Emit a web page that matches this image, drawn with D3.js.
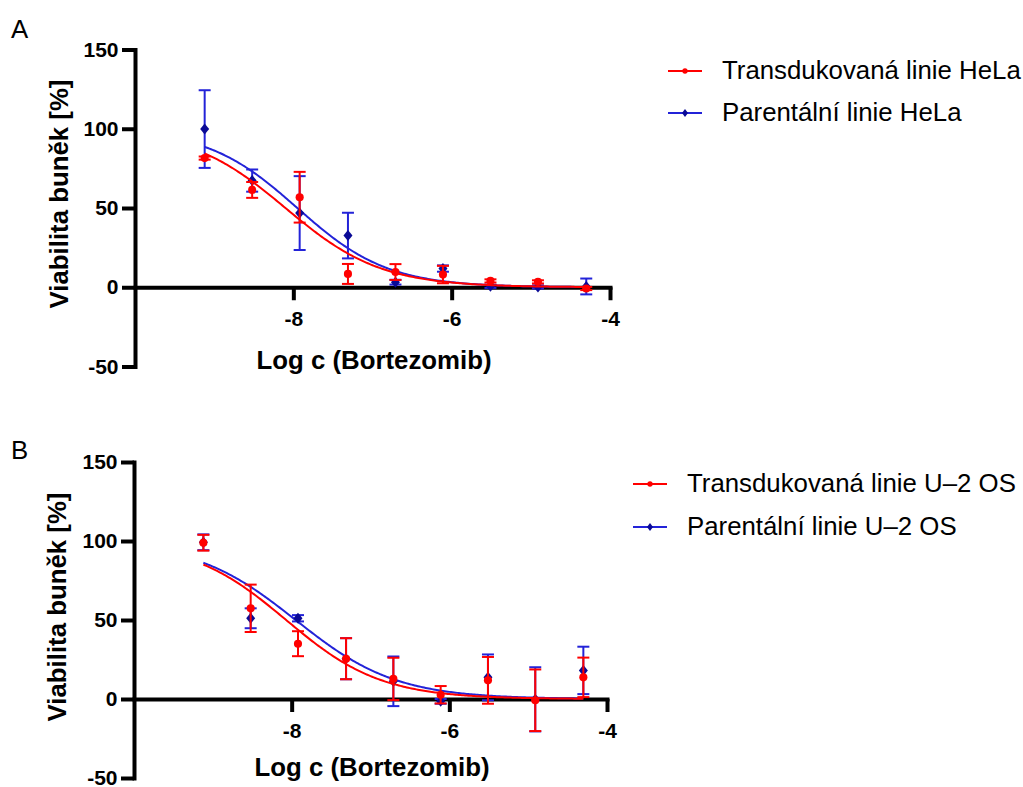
<!DOCTYPE html>
<html>
<head>
<meta charset="utf-8">
<script src="https://cdn.jsdelivr.net/npm/d3@7"></script>
<style>
    body { margin: 0; background: #fff; }
    svg { display: block; }
    .axis path, .axis line { stroke: #000; stroke-width: 4; }
    .axis text { font-family: "Liberation Sans", Arial, sans-serif; font-weight: bold; font-size: 21px; fill: #000; }
    .label { font-family: "Liberation Sans", Arial, sans-serif; font-weight: bold; font-size: 25.8px; fill: #000; }
    .legend text, .panel-letter { font-family: "Liberation Sans", Arial, sans-serif; font-size: 25.8px; fill: #000; }
</style>
</head>
<body>
<div id="chart"></div>
<script>

// log concentration of bortezomib (same for both panels)
var logConc = [-9.12, -8.52, -7.92, -7.31, -6.71, -6.11, -5.51, -4.91, -4.30];

// panel A - HeLa
var helaTransMean = [81.5, 61.4, 56.8, 8.4, 9.6, 8.0, 4.0, 3.4, -0.8];
var helaTransErr  = [1, 5, 16, 6.3, 5, 5.5, 1, 1, 1];
var helaParMean   = [99.8, 67.3, 46.8, 32.6, 3.2, 11.8, 0.6, 0.2, 0.5];
var helaParErr    = [24.5, 7, 23.3, 14.4, 1.5, 2, 1, 1, 5];

// panel B - U-2 OS
var osTransMean = [98.9, 57.4, 35, 25.5, 12.7, 2.7, 11.8, -0.8, 13.7];
var osTransErr  = [5, 15, 7.9, 13, 13.4, 5.5, 14.8, 19.5, 12.5];
var osParMean   = [99.2, 51.1, 51.1, 25.5, 11.2, -1.5, 13.7, -0.2, 18.1];
var osParErr    = [5, 6.3, 2, 13, 15.7, 1.5, 14.5, 20.3, 15];

// fitted curves: [top, bottom, logIC50, hill slope]
var helaTransFit = [100, 0, -8.10, 0.72];
var helaParFit   = [100, 0, -7.95, 0.76];
var osTransFit   = [100, 0, -8.07, 0.72];
var osParFit     = [100, 0, -7.95, 0.68];

var xTicks = [-8, -6, -4];
var yTicks = [-50, 0, 50, 100, 150];

var red = "#ff0000",
    blueLine = "#2323d8",
    blueMark = "#0a0a96";

var svg = d3.select("#chart")
    .append("svg")
    .attr("width", 1023)
    .attr("height", 787);

function plain(d) { return String(d); }

function drawPanel(p) {

    var x = d3.scaleLinear().domain([-10, -4]).range(p.xRange),
        y = d3.scaleLinear().domain([-50, 150]).range(p.yRange);

    var g = svg.append("g");

    svg.append("text")
        .attr("class", "panel-letter")
        .attr("x", 11)
        .attr("y", p.letterY)
        .text(p.letter);

    // y axis
    var yAxis = g.append("g")
        .attr("class", "axis")
        .attr("transform", "translate(" + p.xRange[0] + ",0)")
        .call(d3.axisLeft(y).tickValues(yTicks).tickFormat(plain).tickSize(13).tickSizeOuter(0).tickPadding(3.5));
    yAxis.select(".domain").attr("stroke-linecap", "square");

    // x axis at y = 0
    var xAxis = g.append("g")
        .attr("class", "axis")
        .attr("transform", "translate(0," + y(0) + ")")
        .call(d3.axisBottom(x).tickValues(xTicks).tickFormat(plain).tickSize(13).tickSizeOuter(0).tickPadding(11));
    xAxis.select(".domain").attr("stroke-linecap", "square");

    g.append("text")
        .attr("class", "label")
        .attr("text-anchor", "middle")
        .attr("transform", "translate(" + p.yLabelPos[0] + "," + p.yLabelPos[1] + ") rotate(-90)")
        .text("Viabilita buněk [%]");

    g.append("text")
        .attr("class", "label")
        .attr("text-anchor", "middle")
        .attr("x", p.xLabelPos[0])
        .attr("y", p.xLabelPos[1])
        .text("Log c (Bortezomib)");

    p.series.forEach(function (s) {

        var fit = s.fit;
        var curveX = d3.range(logConc[0], logConc[logConc.length - 1] + 0.001, 0.02);
        var line = d3.line()
            .x(function (d) { return x(d); })
            .y(function (d) {
                return y(fit[1] + (fit[0] - fit[1]) / (1 + Math.pow(10, (d - fit[2]) * fit[3])));
            });

        g.append("path")
            .datum(curveX)
            .attr("d", line)
            .attr("fill", "none")
            .attr("stroke", s.line)
            .attr("stroke-width", 2);

        var pts = logConc.map(function (c, i) {
            return { c: c, m: s.mean[i], e: s.err[i] };
        });

        var eb = g.append("g")
            .attr("stroke", s.line)
            .attr("stroke-width", 2);

        eb.selectAll(".stem").data(pts).enter().append("line")
            .attr("x1", function (d) { return x(d.c); })
            .attr("x2", function (d) { return x(d.c); })
            .attr("y1", function (d) { return y(d.m + d.e); })
            .attr("y2", function (d) { return y(d.m - d.e); });

        [1, -1].forEach(function (sign) {
            eb.selectAll(".cap" + sign).data(pts).enter().append("line")
                .attr("x1", function (d) { return x(d.c) - 6; })
                .attr("x2", function (d) { return x(d.c) + 6; })
                .attr("y1", function (d) { return y(d.m + sign * d.e); })
                .attr("y2", function (d) { return y(d.m + sign * d.e); });
        });

        g.selectAll(".mark").data(pts).enter().append("path")
            .attr("transform", function (d) { return "translate(" + x(d.c) + "," + y(d.m) + ")"; })
            .attr("d", s.shape == "circle" ? d3.symbol(d3.symbolCircle, 52)() : "M0,-5.5L4.5,0L0,5.5L-4.5,0Z")
            .attr("fill", s.mark);
    });

    // legend
    var legend = svg.append("g").attr("class", "legend");
    p.legendItems.forEach(function (s, i) {
        var ly = p.legendY[i];
        legend.append("line")
            .attr("x1", p.legendX).attr("x2", p.legendX + 34)
            .attr("y1", ly).attr("y2", ly)
            .attr("stroke", s.line).attr("stroke-width", 2);
        legend.append("path")
            .attr("transform", "translate(" + (p.legendX + 17) + "," + ly + ")")
            .attr("d", s.shape == "circle" ? d3.symbol(d3.symbolCircle, 22)() : "M0,-4L3,0L0,4L-3,0Z")
            .attr("fill", s.mark);
        legend.append("text")
            .attr("x", p.legendX + 54)
            .attr("y", ly + 8)
            .text(s.name);
    });
}

var helaTrans = { name: "Transdukovaná linie HeLa", mean: helaTransMean, err: helaTransErr, fit: helaTransFit, line: red, mark: red, shape: "circle" },
    helaPar = { name: "Parentální linie HeLa", mean: helaParMean, err: helaParErr, fit: helaParFit, line: blueLine, mark: blueMark, shape: "diamond" },
    osTrans = { name: "Transdukovaná linie U–2 OS", mean: osTransMean, err: osTransErr, fit: osTransFit, line: red, mark: red, shape: "circle" },
    osPar = { name: "Parentální linie U–2 OS", mean: osParMean, err: osParErr, fit: osParFit, line: blueLine, mark: blueMark, shape: "diamond" };

drawPanel({
    letter: "A", letterY: 38,
    xRange: [135, 610], yRange: [366.5, 49.5],
    yLabelPos: [68, 194], xLabelPos: [374, 369],
    series: [helaPar, helaTrans],
    legendItems: [helaTrans, helaPar],
    legendX: 668, legendY: [71, 113]
});

drawPanel({
    letter: "B", letterY: 459,
    xRange: [134, 607], yRange: [778, 462],
    yLabelPos: [66, 607], xLabelPos: [372, 776],
    series: [osPar, osTrans],
    legendItems: [osTrans, osPar],
    legendX: 633, legendY: [484, 527]
});

</script>
</body>
</html>
